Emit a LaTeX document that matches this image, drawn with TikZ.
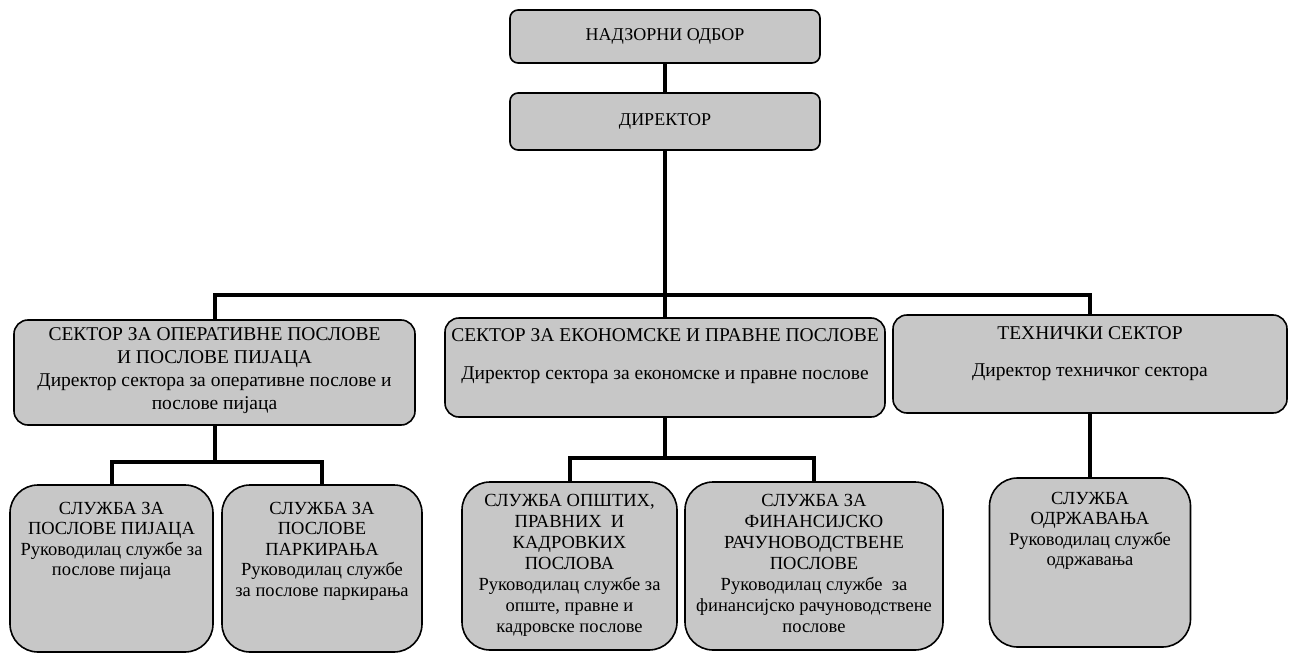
\documentclass[tikz,border=0pt]{standalone}
\usepackage{fontspec}
\setmainfont{Liberation Serif}
\newcommand\bx[4]{\parbox[c][#1][t]{#2}{\centering\vspace*{#3}#4\par}}
\begin{document}
\begin{tikzpicture}[x=1pt,y=-1pt,
  orgbox/.style={draw, line width=1.6pt, fill=black!22, inner sep=0pt, outer sep=0pt, align=center},
  link/.style={line width=4pt, line join=miter}]
\useasboundingbox (0,0) rectangle (1291,653);
% top level
\node[orgbox, rounded corners=8pt, minimum width=310pt, minimum height=53pt] (nadzor) at (665,36.5)
  {\fontsize{18}{21}\selectfont НАДЗОРНИ ОДБОР};
\node[orgbox, rounded corners=8pt, minimum width=310pt, minimum height=57pt] (dir) at (665,121.5)
  {\fontsize{18}{21}\selectfont ДИРЕКТОР};
% sectors
\node[orgbox, rounded corners=14pt] (s1) at (214.5,372.5)
  {\bx{105pt}{401pt}{8pt}{\fontsize{19.5}{23}\selectfont СЕКТОР ЗА ОПЕРАТИВНЕ ПОСЛОВЕ\\ И ПОСЛОВЕ ПИЈАЦА\\ Директор сектора за оперативне послове и\\ послове пијаца}};
\node[orgbox, rounded corners=14pt] (s2) at (665,367.5)
  {\bx{99pt}{440pt}{11pt}{\fontsize{19.5}{23}\selectfont СЕКТОР ЗА ЕКОНОМСКЕ И ПРАВНЕ ПОСЛОВЕ\\[15pt] Директор сектора за економске и правне послове}};
\node[orgbox, rounded corners=14pt] (s3) at (1090,364)
  {\bx{98pt}{394pt}{12pt}{\fontsize{19.5}{23}\selectfont ТЕХНИЧКИ СЕКТОР\\[14pt] Директор техничког сектора}};
% services
\node[orgbox, rounded corners=28pt] (c1) at (111.5,568.5)
  {\bx{167pt}{203pt}{17pt}{\fontsize{18.5}{20.5}\selectfont СЛУЖБА ЗА\\ ПОСЛОВЕ ПИЈАЦА\\ Руководилац службе за\\ послове пијаца}};
\node[orgbox, rounded corners=28pt] (c2) at (322,568.5)
  {\bx{167pt}{200pt}{17pt}{\fontsize{18.5}{20.5}\selectfont СЛУЖБА ЗА\\ ПОСЛОВЕ\\ ПАРКИРАЊА\\ Руководилац службе\\ за послове паркирања}};
\node[orgbox, rounded corners=28pt] (c3) at (569.5,566)
  {\bx{168pt}{215pt}{12pt}{\fontsize{18.5}{21}\selectfont СЛУЖБА ОПШТИХ,\\ ПРАВНИХ~ И\\ КАДРОВКИХ\\ ПОСЛОВА\\ Руководилац службе за\\ опште, правне и\\ кадровске послове}};
\node[orgbox, rounded corners=28pt] (c4) at (814,566)
  {\bx{168pt}{258pt}{12pt}{\fontsize{18.5}{21}\selectfont СЛУЖБА ЗА\\ ФИНАНСИЈСКО\\ РАЧУНОВОДСТВЕНЕ\\ ПОСЛОВЕ\\ Руководилац службе~ за\\ финансијско рачуноводствене\\ послове}};
\node[orgbox, rounded corners=28pt] (c5) at (1090,562.5)
  {\bx{169pt}{201pt}{14pt}{\fontsize{18.5}{20.5}\selectfont СЛУЖБА\\ ОДРЖАВАЊА\\ Руководилац службе\\ одржавања}};
% junctions
\coordinate (bus) at (665,295);
\coordinate (b1) at (214.5,462);
\coordinate (b2) at (665,458);
% connectors
\draw[link] (nadzor) -- (dir);
\draw[link] (dir) -- (bus);
\draw[link] (s1.north) |- (bus) -| (s3.north);
\draw[link] (bus) -- (s2.north);
\draw[link] (s1) -- (b1);
\draw[link] (c1.north) |- (b1) -| (c2.north);
\draw[link] (s2) -- (b2);
\draw[link] (c3.north) |- (b2) -| (c4.north);
\draw[link] (s3) -- (c5);
\end{tikzpicture}
\end{document}
